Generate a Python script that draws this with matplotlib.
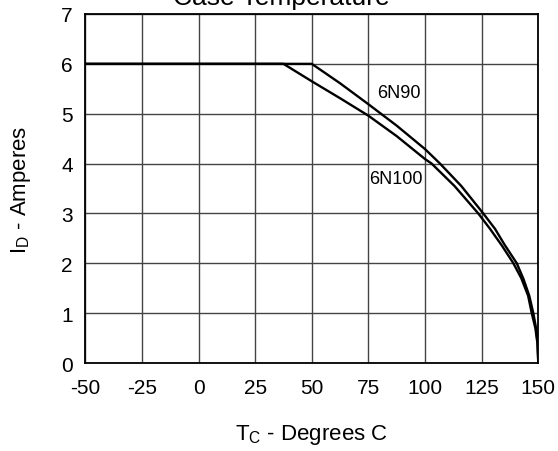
import matplotlib.pyplot as plt

plt.rcParams['font.family'] = ['Liberation Sans', 'DejaVu Sans']
plt.rcParams['mathtext.fontset'] = 'custom'
plt.rcParams['mathtext.rm'] = 'Liberation Sans'
plt.rcParams['mathtext.it'] = 'Liberation Sans'
plt.rcParams['axes.unicode_minus'] = False

# Data ------------------------------------------------------------
tc_90 = [-50, 50, 62.5, 75, 87.5, 100, 106.6, 116, 125.7, 130.9, 135, 140.5,
         143.5, 146, 147.8, 149, 149.7, 150]
id_90 = [6.0, 6.0, 5.61, 5.19, 4.76, 4.29, 4.0, 3.55, 3.0, 2.69, 2.38, 2.0,
         1.68, 1.35, 1.0, 0.7, 0.4, 0.0]

tc_100 = [-50, 37.5, 50, 62.5, 75, 87.5, 100, 102.9, 113, 123.5, 128.7, 134, 139,
          142.5, 145.5, 147.1, 148.7, 149.6, 150]
id_100 = [6.0, 6.0, 5.65, 5.31, 4.96, 4.55, 4.09, 4.0, 3.55, 3.0, 2.69, 2.35, 2.0,
          1.7, 1.35, 1.0, 0.7, 0.4, 0.0]

x_ticks = [-50, -25, 0, 25, 50, 75, 100, 125, 150]
y_ticks = [0, 1, 2, 3, 4, 5, 6, 7]

labels = ["6N90", "6N100"]
label_pos = [(78.7, 5.43), (75.4, 3.70)]

fig = plt.figure(figsize=(5.58, 4.52), dpi=100)
ax = fig.add_axes([85.3 / 558, 1 - 364 / 452, (538.3 - 85.3) / 558, (364 - 15) / 452])

ax.plot(tc_90, id_90, color='black', lw=1.7, solid_joinstyle='round')
ax.plot(tc_100, id_100, color='black', lw=1.7, solid_joinstyle='round')

for text, (tx, ty) in zip(labels, label_pos):
    ax.text(tx, ty, text, ha='left', va='center', fontsize=13)

ax.set_xlim(-50, 150)
ax.set_ylim(0, 7)
ax.set_xticks(x_ticks)
ax.set_yticks(y_ticks)
ax.tick_params(axis='both', length=0, labelsize=15)
ax.tick_params(axis='x', pad=11)
ax.tick_params(axis='y', pad=9)
ax.grid(True, color='#444444', lw=1.0)
ax.set_axisbelow(True)
for sp in ax.spines.values():
    sp.set_linewidth(1.3)

ax.set_xlabel(r'T$_\mathrm{C}$ - Degrees C', fontsize=16, labelpad=18)
ax.set_ylabel(r'I$_\mathrm{D}$ - Amperes', fontsize=16, labelpad=20)

fig.text(281.7 / 558, 1 - 5 / 452, 'Case Temperature', ha='center', va='baseline', fontsize=19)

fig.savefig('out.png', dpi=100)
